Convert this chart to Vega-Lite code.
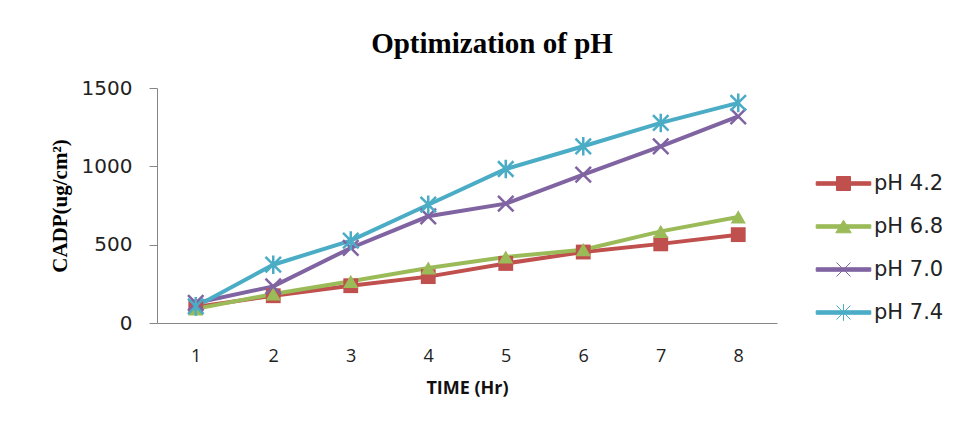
{
  "$schema": "https://vega.github.io/schema/vega-lite/v6.json",
  "width": 620,
  "height": 235,
  "autosize": {"type": "none"},
  "padding": {"left": 157, "top": 88, "right": 183, "bottom": 100},
  "background": "white",
  "config": {"view": {"stroke": null}, "font": "DejaVu Sans"},
  "title": {
    "text": "Optimization of pH",
    "font": "Liberation Serif",
    "fontSize": 29,
    "fontWeight": "bold",
    "color": "black",
    "anchor": "middle",
    "dx": 25,
    "offset": 19
  },
  "data": {
    "values": [
      {"series": "pH 4.2", "time": 1, "value": 102},
      {"series": "pH 4.2", "time": 2, "value": 174},
      {"series": "pH 4.2", "time": 3, "value": 238},
      {"series": "pH 4.2", "time": 4, "value": 296},
      {"series": "pH 4.2", "time": 5, "value": 380},
      {"series": "pH 4.2", "time": 6, "value": 453},
      {"series": "pH 4.2", "time": 7, "value": 505},
      {"series": "pH 4.2", "time": 8, "value": 564},
      {"series": "pH 6.8", "time": 1, "value": 90},
      {"series": "pH 6.8", "time": 2, "value": 185},
      {"series": "pH 6.8", "time": 3, "value": 266},
      {"series": "pH 6.8", "time": 4, "value": 351},
      {"series": "pH 6.8", "time": 5, "value": 421},
      {"series": "pH 6.8", "time": 6, "value": 468},
      {"series": "pH 6.8", "time": 7, "value": 585},
      {"series": "pH 6.8", "time": 8, "value": 677},
      {"series": "pH 7.0", "time": 1, "value": 128},
      {"series": "pH 7.0", "time": 2, "value": 234},
      {"series": "pH 7.0", "time": 3, "value": 479},
      {"series": "pH 7.0", "time": 4, "value": 681},
      {"series": "pH 7.0", "time": 5, "value": 762},
      {"series": "pH 7.0", "time": 6, "value": 947},
      {"series": "pH 7.0", "time": 7, "value": 1128},
      {"series": "pH 7.0", "time": 8, "value": 1319},
      {"series": "pH 7.4", "time": 1, "value": 106},
      {"series": "pH 7.4", "time": 2, "value": 372},
      {"series": "pH 7.4", "time": 3, "value": 526},
      {"series": "pH 7.4", "time": 4, "value": 755},
      {"series": "pH 7.4", "time": 5, "value": 983},
      {"series": "pH 7.4", "time": 6, "value": 1128},
      {"series": "pH 7.4", "time": 7, "value": 1277},
      {"series": "pH 7.4", "time": 8, "value": 1405}
    ]
  },
  "encoding": {
    "x": {
      "field": "time",
      "type": "ordinal",
      "scale": {"type": "point", "padding": 0.5},
      "title": "TIME (Hr)",
      "axis": {
        "labelAngle": 0,
        "ticks": false,
        "domainColor": "#868686",
        "domainWidth": 1,
        "labelFont": "Open Sans",
        "labelFontSize": 18,
        "labelColor": "#222",
        "labelPadding": 24,
        "titleFont": "Open Sans",
        "titleFontSize": 18,
        "titleFontWeight": "bold",
        "titleColor": "#111",
        "titlePadding": 14
      }
    },
    "y": {
      "field": "value",
      "type": "quantitative",
      "scale": {"domain": [0, 1500], "nice": false},
      "title": "CADP(ug/cm²)",
      "axis": {
        "values": [0, 500, 1000, 1500],
        "format": "d",
        "grid": false,
        "domainColor": "#868686",
        "tickColor": "#868686",
        "tickSize": 8,
        "labelFont": "DejaVu Sans",
        "labelFontSize": 20,
        "labelColor": "#222",
        "labelPadding": 17,
        "titleFont": "Liberation Serif",
        "titleFontSize": 21,
        "titleFontWeight": "bold",
        "titleColor": "black",
        "titlePadding": 11
      }
    },
    "color": {
      "field": "series",
      "type": "nominal",
      "scale": {
        "domain": ["pH 4.2", "pH 6.8", "pH 7.0", "pH 7.4"],
        "range": ["#C0504D", "#9BBB59", "#8064A2", "#4BACC6"]
      },
      "legend": {
        "title": null,
        "orient": "none",
        "legendX": 676,
        "legendY": 85,
        "direction": "vertical",
        "symbolSize": 196,
        "labelOffset": 20,
        "rowPadding": 21,
        "labelFont": "DejaVu Sans",
        "labelFontSize": 21,
        "labelColor": "#222",
        "encode": {
          "symbols": {
            "update": {
              "shape": {"signal": "datum.value === 'pH 4.2' ? 'M-3.9,-0.25H3.9V0.25H-3.9Z M-1,-1H1V1H-1Z' : datum.value === 'pH 6.8' ? 'M-3.9,-0.25H3.9V0.25H-3.9Z M0,-0.9L1.1,0.9H-1.1Z' : datum.value === 'pH 7.0' ? 'M-3.9,-0.25H3.9V0.25H-3.9Z M-1,-1L1,1M-1,1L1,-1' : 'M-3.9,-0.25H3.9V0.25H-3.9Z M-1,-1L1,1M-1,1L1,-1M0,-1.2V1.2'"},
              "fill": {"signal": "scale('color', datum.value)"},
              "stroke": {"signal": "scale('color', datum.value)"},
              "strokeWidth": {"value": 1},
              "opacity": {"value": 1},
              "fillOpacity": {"value": 1},
              "size": {"value": 196}
            }
          }
        }
      }
    }
  },
  "layer": [
    {"mark": {"type": "line", "strokeWidth": 4}},
    {
      "transform": [{"filter": "datum.series === 'pH 4.2'"}],
      "mark": {"type": "point", "shape": "square", "filled": true, "size": 220, "opacity": 1}
    },
    {
      "transform": [{"filter": "datum.series === 'pH 6.8'"}],
      "mark": {"type": "point", "shape": "triangle-up", "filled": true, "size": 230, "opacity": 1}
    },
    {
      "transform": [{"filter": "datum.series === 'pH 7.0'"}],
      "mark": {"type": "point", "shape": "M-1,-1L1,1M-1,1L1,-1", "filled": true, "size": 240, "stroke": "#8064A2", "strokeWidth": 2.5, "opacity": 1}
    },
    {
      "transform": [{"filter": "datum.series === 'pH 7.4'"}],
      "mark": {"type": "point", "shape": "M-1,-1L1,1M-1,1L1,-1M0,-1.2V1.2", "filled": true, "size": 240, "stroke": "#4BACC6", "strokeWidth": 2.5, "opacity": 1}
    }
  ]
}
